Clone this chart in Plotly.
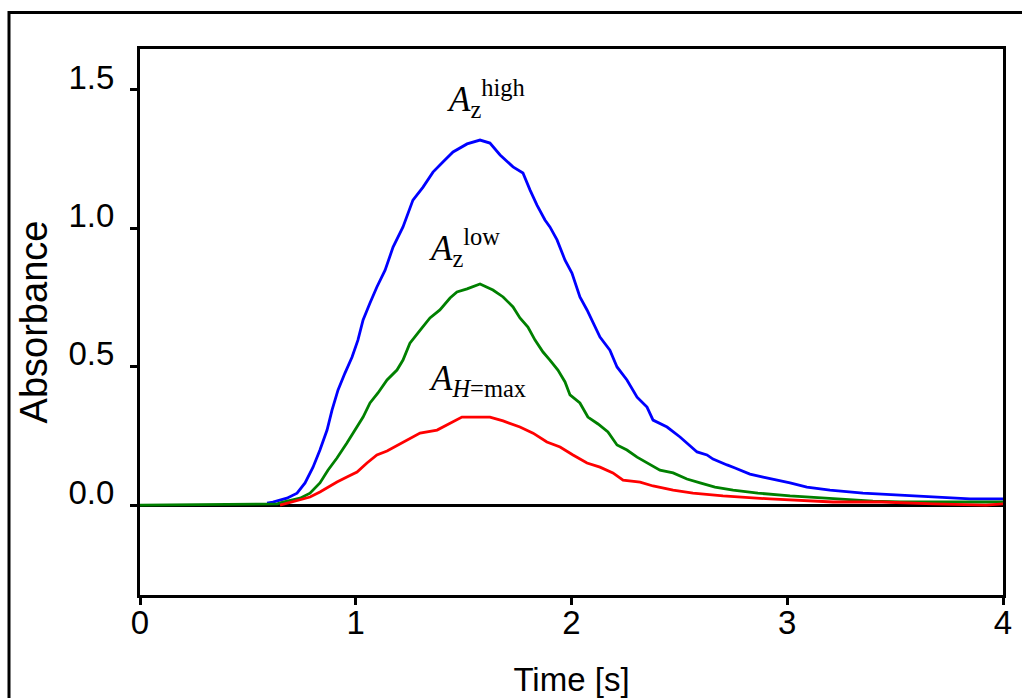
import plotly.graph_objects as go

# ---- data (time in s, absorbance) ----
blue_x = [0.589, 0.616, 0.681, 0.728, 0.765, 0.802, 0.834, 0.867, 0.890, 0.918, 0.950, 0.983, 1.010,
          1.034, 1.066, 1.098, 1.136, 1.173, 1.219, 1.238, 1.265, 1.312, 1.358, 1.404, 1.451, 1.516,
          1.576, 1.622, 1.669, 1.729, 1.775, 1.808, 1.840, 1.877, 1.900, 1.933, 1.970, 2.002, 2.016,
          2.039, 2.072, 2.100, 2.132, 2.178, 2.211, 2.257, 2.304, 2.350, 2.378, 2.443, 2.503, 2.582,
          2.628, 2.656, 2.688, 2.721, 2.758, 2.790, 2.827, 2.888, 2.957, 3.013, 3.091, 3.198, 3.351,
          3.583, 3.847, 4.0]
blue_y = [0.007, 0.011, 0.025, 0.043, 0.080, 0.137, 0.199, 0.271, 0.343, 0.416, 0.477, 0.535, 0.596,
          0.669, 0.730, 0.788, 0.849, 0.932, 1.005, 1.048, 1.102, 1.149, 1.203, 1.240, 1.276, 1.305,
          1.319, 1.308, 1.265, 1.222, 1.200, 1.138, 1.084, 1.030, 1.005, 0.958, 0.885, 0.838, 0.802,
          0.752, 0.705, 0.658, 0.607, 0.560, 0.499, 0.452, 0.390, 0.354, 0.307, 0.282, 0.246, 0.192,
          0.181, 0.166, 0.155, 0.145, 0.134, 0.123, 0.112, 0.101, 0.090, 0.080, 0.065, 0.054, 0.043,
          0.033, 0.022, 0.022]

green_x = [0.0, 0.636, 0.663, 0.742, 0.788, 0.834, 0.871, 0.913, 0.959, 0.997, 1.034, 1.066, 1.103,
           1.145, 1.191, 1.219, 1.251, 1.307, 1.344, 1.390, 1.437, 1.469, 1.516, 1.576, 1.636, 1.683,
           1.729, 1.761, 1.798, 1.831, 1.868, 1.900, 1.937, 1.970, 1.993, 2.039, 2.076, 2.123, 2.169,
           2.211, 2.257, 2.304, 2.350, 2.410, 2.471, 2.535, 2.596, 2.665, 2.749, 2.864, 3.013, 3.231,
           3.397, 3.523, 4.0]
green_y = [0.0, 0.004, 0.011, 0.025, 0.043, 0.080, 0.126, 0.170, 0.224, 0.271, 0.318, 0.369, 0.405,
           0.452, 0.488, 0.524, 0.585, 0.640, 0.676, 0.705, 0.748, 0.770, 0.781, 0.799, 0.777, 0.752,
           0.716, 0.676, 0.643, 0.596, 0.553, 0.524, 0.488, 0.445, 0.398, 0.369, 0.318, 0.293, 0.264,
           0.217, 0.199, 0.173, 0.152, 0.126, 0.116, 0.094, 0.080, 0.065, 0.054, 0.043, 0.033, 0.022,
           0.014, 0.011, 0.011]

red_x = [0.649, 0.728, 0.788, 0.834, 0.871, 0.913, 0.959, 1.006, 1.052, 1.098, 1.145, 1.196, 1.238,
         1.298, 1.377, 1.451, 1.492, 1.622, 1.683, 1.761, 1.822, 1.886, 1.947, 2.007, 2.072, 2.132,
         2.192, 2.239, 2.318, 2.378, 2.471, 2.563, 2.702, 2.920, 3.212, 3.439, 3.676, 3.921, 4.0]
red_y = [0.0, 0.018, 0.029, 0.047, 0.065, 0.083, 0.101, 0.119, 0.152, 0.181, 0.195, 0.217, 0.235,
         0.260, 0.271, 0.300, 0.318, 0.318, 0.304, 0.282, 0.260, 0.228, 0.210, 0.181, 0.152, 0.137,
         0.116, 0.090, 0.083, 0.069, 0.054, 0.043, 0.033, 0.022, 0.011, 0.011, 0.004, 0.0, 0.004]

x_ticks = [0, 1, 2, 3, 4]
y_ticks = [0.0, 0.5, 1.0, 1.5]

labels = ["<i>A</i><sub>z</sub><sup>high</sup>",
          "<i>A</i><sub>z</sub><sup>low</sup>",
          "<i>A</i><sub><i>H</i>=max</sub>"]
label_x = [1.414, 1.33, 1.33]
label_y = [1.47, 0.93, 0.45]

SANS = "Liberation Sans, Arial, sans-serif"
SERIF = "Liberation Serif, Times New Roman, serif"

fig = go.Figure()
fig.add_trace(go.Scatter(x=blue_x, y=blue_y, mode="lines", line=dict(color="#0000FF", width=2.8)))
fig.add_trace(go.Scatter(x=green_x, y=green_y, mode="lines", line=dict(color="#008000", width=2.8)))
fig.add_trace(go.Scatter(x=red_x, y=red_y, mode="lines", line=dict(color="#FF0000", width=2.8)))

for t, xx, yy in zip(labels, label_x, label_y):
    fig.add_annotation(x=xx, y=yy, xref="x", yref="y", text=t, showarrow=False,
                       xanchor="left", yanchor="middle",
                       font=dict(family=SERIF, size=35, color="black"))

L, R, T, B = 140, 19, 49, 103
W, H = 1022, 698
pw, ph = W - L - R, H - T - B
fig.add_shape(type="rect", xref="paper", yref="paper",
              x0=(9 - L) / pw, x1=(1040 - L) / pw,
              y0=(H - B - 720) / ph, y1=(H - B - 12.5) / ph,
              line=dict(color="black", width=3), fillcolor="rgba(0,0,0,0)", layer="below")

fig.update_layout(
    width=W, height=H,
    margin=dict(l=L, r=R, t=T, b=B, pad=0, autoexpand=False),
    paper_bgcolor="white", plot_bgcolor="white",
    showlegend=False,
    font=dict(family=SANS, size=33, color="black"),
    xaxis=dict(range=[0, 4], tickvals=x_ticks, ticks="outside", ticklen=7, tickwidth=3,
               tickcolor="black", showline=True, linecolor="black", linewidth=3, mirror=True,
               showgrid=False, zeroline=False, ticklabelstandoff=-11, automargin=False,
               title=dict(text="Time [s]", standoff=34, font=dict(family=SANS, size=33))),
    yaxis=dict(range=[-0.325, 1.648], tickvals=y_ticks, tickformat=".1f", ticks="outside",
               ticklen=7, tickwidth=3, tickcolor="black", showline=True, linecolor="black",
               linewidth=3, mirror=True, showgrid=False, zeroline=True, zerolinecolor="black",
               zerolinewidth=3, ticklabelshift=-13, ticklabelstandoff=9, automargin=False,
               title=dict(text="Absorbance", standoff=10, font=dict(family=SANS, size=38))),
)

fig.write_html("out.html")
